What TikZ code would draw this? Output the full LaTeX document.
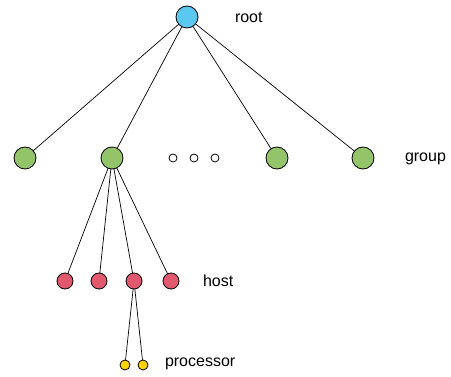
\documentclass[tikz,border=0pt]{standalone}
\usepackage{fontspec}
\setmainfont{Liberation Sans}
\definecolor{rootc}{HTML}{5BC8F2}
\definecolor{groupc}{HTML}{94C46A}
\definecolor{hostc}{HTML}{E0596E}
\definecolor{procc}{HTML}{FFD400}
\begin{document}
\begin{tikzpicture}[x=1pt,y=-1pt,
  every node/.style={inner sep=0pt,outer sep=0pt},
  nd/.style={circle,draw=black,line width=0.8pt},
  rootnd/.style={nd,fill=rootc,minimum size=22pt},
  groupnd/.style={nd,fill=groupc,minimum size=22pt},
  hostnd/.style={nd,fill=hostc,minimum size=16pt},
  procnd/.style={nd,fill=procc,minimum size=10pt},
  dotnd/.style={nd,fill=white,minimum size=8pt},
  lbl/.style={anchor=west,font=\fontsize{16}{18}\selectfont},
  edge/.style={draw=black,line width=0.7pt}]
\useasboundingbox (0,0) rectangle (451,377);
\node[rootnd] (root) at (187,17) {};
\node[groupnd] (g1) at (25,158) {};
\node[groupnd] (g2) at (112,158) {};
\node[groupnd] (g3) at (277,158) {};
\node[groupnd] (g4) at (363,158) {};
\node[dotnd] (d1) at (173,158) {};
\node[dotnd] (d2) at (194,158) {};
\node[dotnd] (d3) at (215,158) {};
\node[hostnd] (h1) at (65,281) {};
\node[hostnd] (h2) at (99,281) {};
\node[hostnd] (h3) at (134,281) {};
\node[hostnd] (h4) at (171,281) {};
\node[procnd] (p1) at (125,365) {};
\node[procnd] (p2) at (143,365) {};
\foreach \g in {g1,g2,g3,g4} \draw[edge] (root) -- (\g);
\foreach \h in {h1,h2,h3,h4} \draw[edge] (g2) -- (\h);
\draw[edge] (h3) -- (p1);
\draw[edge] (h3) -- (p2);
\node[lbl] (lroot) at (235,17) {root};
\node[lbl] (lgroup) at (405,159) {group};
\node[lbl] (lhost) at (203,281) {host};
\node[lbl] (lproc) at (165,364) {processor};
\end{tikzpicture}
\end{document}
